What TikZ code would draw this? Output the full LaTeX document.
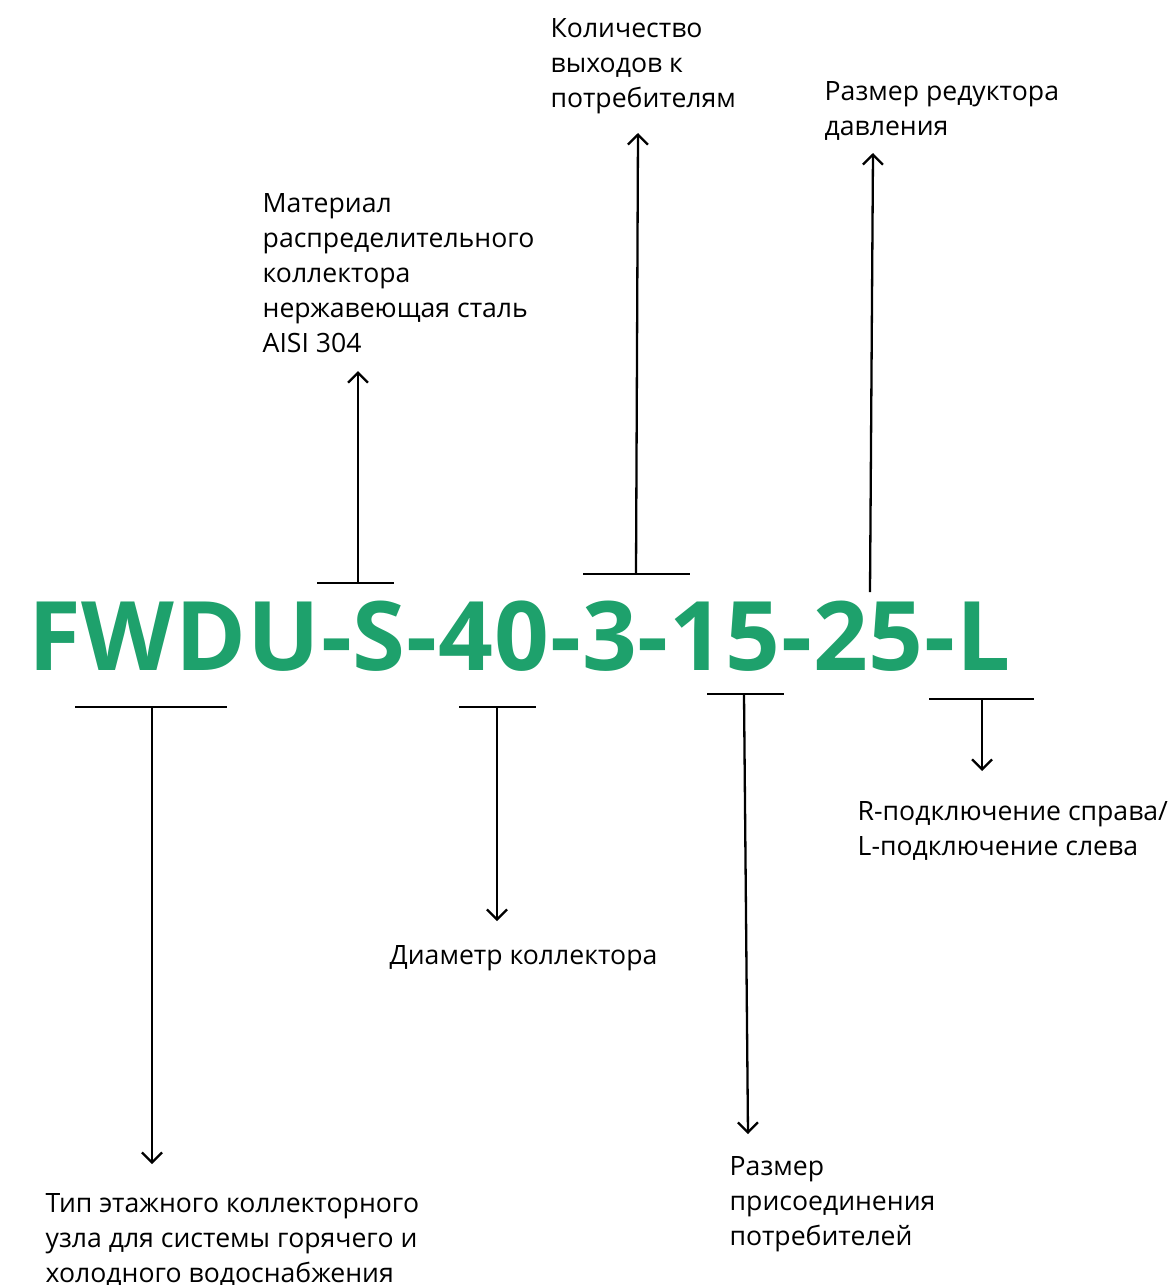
\documentclass[tikz,border=0pt]{standalone}
\usepackage{fontspec}
\setmainfont{Open Sans}
\usetikzlibrary{arrows.meta}
\definecolor{codegreen}{HTML}{1EA16C}

\begin{document}
\begin{tikzpicture}[x=1pt,y=-1pt]
\useasboundingbox (0,0) rectangle (1172,1285);

% model code
\node (code) [anchor=base west, inner sep=0, text=codegreen,
      font=\fontsize{96}{96}\selectfont\bfseries\addfontfeatures{LetterSpace=1.0}]
      at (28,670) {FWDU-S-40-3-15-25-L};

% labels (anchored at the baseline of their last line)
\begin{scope}[every node/.style={anchor=base west, inner sep=0, align=left,
              font=\fontsize{26.6}{35}\selectfont}]
    \node (outlets) at (550.5,107.5) {Количество\\выходов к\\потребителям};
    \node (reducer) at (824.5,135) {Размер редуктора\\давления};
    \node (material) at (262.5,352) {Материал\\распределительного\\коллектора\\нержавеющая сталь\\AISI 304};
    \node (side) at (857.5,855) {R-подключение справа/\\L-подключение слева};
    \node (diam) at (389.5,964) {Диаметр коллектора};
    \node (conn) at (729.5,1245) {Размер\\присоединения\\потребителей};
    \node (type) at (45.5,1282) {Тип этажного коллекторного\\узла для системы горячего и\\холодного водоснабжения};
\end{scope}

% tee bars and ends
\coordinate (sL) at (317,583);  \coordinate (sR) at (394,583);
\coordinate (sM) at (358,583);  \coordinate (sT) at (358,371);
\coordinate (oL) at (583,574);  \coordinate (oR) at (690,574);
\coordinate (oM) at (636,574);  \coordinate (oT) at (638,133);
\coordinate (rB) at (870,592);  \coordinate (rT) at (873,153);
\coordinate (tL) at (75,707);   \coordinate (tR) at (227,707);
\coordinate (tM) at (152,707);  \coordinate (tB) at (152,1164);
\coordinate (dL) at (459,707);  \coordinate (dR) at (536,707);
\coordinate (dM) at (497,707);  \coordinate (dB) at (497,921);
\coordinate (cL) at (707,694);  \coordinate (cR) at (784,694);
\coordinate (cM) at (744,694);  \coordinate (cB) at (748,1134);
\coordinate (lL) at (929,699);  \coordinate (lR) at (1034,699);
\coordinate (lM) at (982,699);  \coordinate (lB) at (982,771);

\begin{scope}[>={Straight Barb[length=10pt,width=20pt]},
              every edge/.style={draw=black, line width=2.3pt}]
    \path (sL) edge (sR);
    \path [->] (sM) edge (sT);
    \path (oL) edge (oR);
    \path [->] (oM) edge (oT);
    \path [->] (rB) edge (rT);
    \path (tL) edge (tR);
    \path [->] (tM) edge (tB);
    \path (dL) edge (dR);
    \path [->] (dM) edge (dB);
    \path (cL) edge (cR);
    \path [->] (cM) edge (cB);
    \path (lL) edge (lR);
    \path [->] (lM) edge (lB);
\end{scope}
\end{tikzpicture}
\end{document}
